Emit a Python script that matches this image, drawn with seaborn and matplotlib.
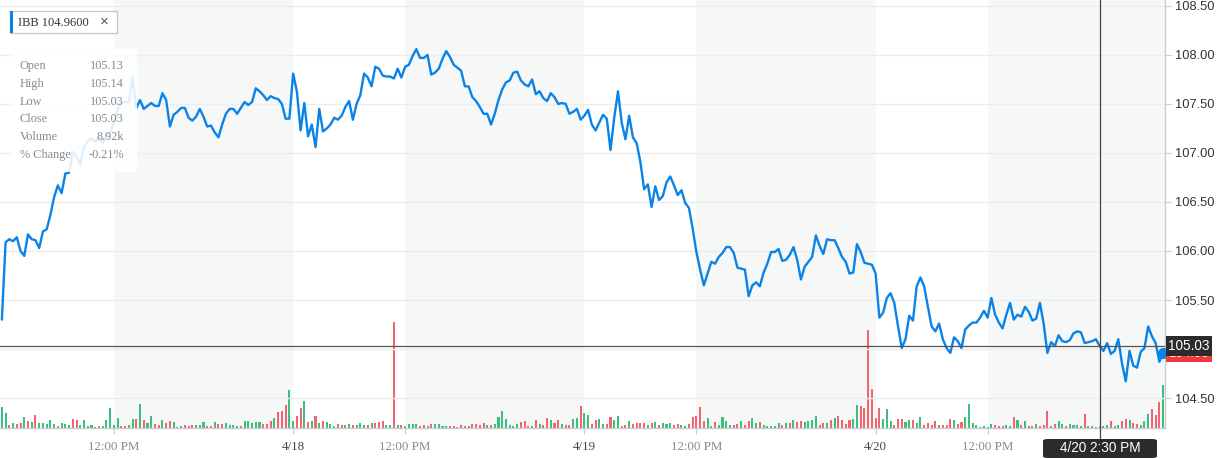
import numpy as np
import pandas as pd
import matplotlib
matplotlib.use('Agg')
import matplotlib.pyplot as plt
import seaborn as sns
from matplotlib.patches import Rectangle, FancyBboxPatch

# IBB intraday, 5-minute bars, 4/17 - 4/20 (78 bars per session)
price_d1 = [105.30, 106.09, 106.12, 106.10, 106.14, 106.00, 105.95, 106.17, 106.12, 106.11,
            106.03, 106.20, 106.22, 106.37, 106.55, 106.67, 106.59, 106.79, 106.80, 107.01,
            106.96, 106.88, 107.06, 107.12, 107.15, 107.11, 107.16, 107.10, 107.18, 107.21,
            107.31, 107.44, 107.51, 107.52, 107.52, 107.77, 107.46, 107.54, 107.45, 107.48,
            107.51, 107.48, 107.48, 107.61, 107.54, 107.27, 107.39, 107.42, 107.46, 107.46,
            107.36, 107.33, 107.37, 107.45, 107.37, 107.27, 107.28, 107.21, 107.16, 107.29,
            107.40, 107.45, 107.45, 107.40, 107.46, 107.52, 107.49, 107.52, 107.66, 107.63,
            107.59, 107.54, 107.58, 107.56, 107.55, 107.50, 107.35, 107.35]
price_d2 = [107.81, 107.63, 107.23, 107.51, 107.17, 107.29, 107.06, 107.45, 107.22, 107.25,
            107.29, 107.36, 107.34, 107.38, 107.47, 107.53, 107.34, 107.50, 107.59, 107.81,
            107.77, 107.68, 107.88, 107.86, 107.79, 107.78, 107.78, 107.76, 107.86, 107.77,
            107.88, 107.90, 107.99, 108.06, 107.97, 107.97, 108.00, 107.80, 107.82, 107.86,
            107.96, 108.04, 107.98, 107.90, 107.87, 107.84, 107.68, 107.68, 107.57, 107.53,
            107.47, 107.40, 107.40, 107.29, 107.40, 107.54, 107.65, 107.72, 107.74, 107.82,
            107.83, 107.74, 107.70, 107.68, 107.75, 107.60, 107.63, 107.56, 107.53, 107.61,
            107.57, 107.50, 107.51, 107.50, 107.40, 107.42, 107.45, 107.34]
price_d3 = [107.38, 107.44, 107.29, 107.23, 107.31, 107.39, 107.35, 107.03, 107.36, 107.63,
            107.31, 107.14, 107.38, 107.16, 107.10, 106.91, 106.63, 106.68, 106.45, 106.66,
            106.52, 106.56, 106.70, 106.76, 106.67, 106.57, 106.62, 106.49, 106.44, 106.23,
            105.99, 105.81, 105.65, 105.77, 105.89, 105.87, 105.94, 105.98, 106.04, 106.04,
            105.98, 105.83, 105.82, 105.81, 105.54, 105.65, 105.68, 105.64, 105.78, 105.87,
            105.99, 105.99, 106.02, 105.90, 105.91, 105.96, 106.04, 105.91, 105.71, 105.84,
            105.89, 105.94, 106.16, 106.05, 105.97, 106.12, 106.11, 106.11, 106.03, 105.94,
            105.89, 105.77, 105.78, 106.07, 105.99, 105.88, 105.87, 105.86]
price_d4 = [105.77, 105.32, 105.37, 105.52, 105.57, 105.47, 105.23, 105.01, 105.10, 105.34,
            105.29, 105.64, 105.73, 105.64, 105.43, 105.23, 105.18, 105.26, 105.10, 105.01,
            104.96, 105.12, 105.08, 105.01, 105.20, 105.24, 105.27, 105.27, 105.32, 105.39,
            105.32, 105.52, 105.35, 105.27, 105.21, 105.35, 105.47, 105.30, 105.35, 105.33,
            105.43, 105.38, 105.29, 105.31, 105.47, 105.26, 104.96, 105.07, 105.03, 105.14,
            105.08, 105.07, 105.09, 105.16, 105.18, 105.17, 105.06, 105.07, 105.08, 105.10,
            105.03, 104.98, 105.06, 104.95, 104.98, 105.10, 104.85, 104.67, 104.98, 104.83,
            104.81, 104.97, 105.01, 105.23, 105.13, 105.06, 104.87, 104.96]

# volume in thousands of shares
vol_d1 = [108, 76, 14, 24, 19, 24, 56, 35, 30, 66, 24, 24, 19, 40, 19, 9, 24, 19, 14, 48,
          40, 14, 40, 9, 14, 4, 9, 9, 40, 102, 14, 50, 9, 9, 14, 45, 45, 123, 40, 24,
          61, 19, 14, 40, 24, 35, 30, 4, 9, 14, 9, 14, 14, 14, 30, 9, 9, 30, 19, 19,
          24, 14, 14, 9, 9, 35, 35, 24, 30, 30, 19, 19, 35, 50, 82, 87, 118, 199]
vol_d2 = [35, 61, 102, 139, 30, 35, 61, 24, 35, 30, 19, 9, 19, 14, 14, 19, 14, 14, 24, 14,
          14, 24, 24, 30, 35, 14, 14, 551, 14, 14, 9, 19, 19, 19, 9, 14, 9, 19, 19, 19,
          9, 9, 9, 9, 3, 14, 9, 9, 19, 19, 14, 24, 14, 14, 19, 56, 87, 45, 14, 9,
          19, 30, 35, 9, 9, 40, 19, 14, 50, 40, 24, 40, 19, 14, 14, 45, 50, 113]
vol_d3 = [76, 66, 19, 40, 45, 19, 19, 56, 40, 61, 9, 14, 35, 19, 24, 24, 24, 14, 24, 30,
          14, 24, 19, 24, 14, 19, 14, 9, 19, 56, 61, 108, 35, 50, 9, 30, 14, 56, 35, 14,
          14, 19, 35, 14, 35, 50, 24, 30, 14, 9, 9, 9, 24, 14, 24, 24, 40, 30, 35, 30,
          35, 40, 61, 14, 24, 24, 40, 50, 61, 40, 19, 40, 45, 118, 113, 102, 510, 201]
vol_d4 = [50, 102, 45, 97, 35, 14, 45, 45, 30, 40, 40, 24, 56, 14, 24, 14, 35, 14, 14, 14,
          45, 40, 19, 30, 56, 123, 24, 14, 4, 9, 4, 19, 14, 9, 9, 14, 9, 56, 40, 14,
          35, 9, 9, 19, 9, 14, 87, 9, 19, 35, 19, 9, 19, 14, 14, 9, 71, 9, 9, 4,
          8.92, 9, 14, 35, 9, 14, 35, 45, 40, 24, 19, 14, 35, 71, 97, 66, 134, 222]

# G = up bar, R = down bar
dir_d1 = "GGRGRRGRGR" "GGGGGRGGGR" "RGGGGRRGGG" "GGRRGGRGRG" "GRRGRRGGGR" "RRGGGRRGRR" "GGGGRGGGGG" "RRRGRRRG"
dir_d2 = "GRRGRGRGRG" "GGRGRGRGGG" "RGRRRGGRGR" "GGGGRRGRGG" "GGRRGRRGRR" "RRGRGGGGGG" "GRRRGRGRRG" "RRGRRGGR"
dir_d3 = "GGRRGGRRGG" "RRGRRRRGRG" "RGGGRRGGRR" "RRRGGRGGGG" "RRGRRGGRGG" "GGGRGRGRRG" "GGGRRGRGRR" "RRGGRRRR"
dir_d4 = "RRGGGRRRGG" "RGGRRRRGRR" "RGRRGGGGGG" "GGRRRGGRGR" "GRRGRRRGRG" "GRGGGGRGGG" "RGGRGGRRGR" "RGGGRRRG"

tick_pos = [30, 78, 108, 156, 186, 234, 264]
tick_labels = ['12:00 PM', '4/18', '12:00 PM', '4/19', '12:00 PM', '4/20', '12:00 PM']
price_ticks = [104.5, 105.0, 105.5, 106.0, 106.5, 107.0, 107.5, 108.0, 108.5]
shade_spans = [(30, 78), (108, 156), (186, 234), (264, 311.5)]

symbol = 'IBB'
last_price = 104.96
info_labels = ['Open', 'High', 'Low', 'Close', 'Volume', '% Change']
info_values = ['105.13', '105.14', '105.03', '105.03', '8.92k', '-0.21%']
cross_bar = 294
cross_price = 105.03
cross_label = '4/20 2:30 PM'

df = pd.DataFrame({
    'price': price_d1 + price_d2 + price_d3 + price_d4,
    'volume': vol_d1 + vol_d2 + vol_d3 + vol_d4,
    'dir': list(dir_d1 + dir_d2 + dir_d3 + dir_d4),
})
df['bar'] = np.arange(len(df))

BLUE = '#0a83e9'
GREEN = '#3cbf7c'
RED = '#f4646f'

sns.set_style('white')
plt.rcParams['font.family'] = ['Liberation Sans', 'DejaVu Sans']

W, H = 1220, 458
fig = plt.figure(figsize=(W / 100, H / 100), dpi=100)
rect = [0, 30 / H, 1165 / W, 428 / H]

# volume layer underneath
axv = fig.add_axes(rect)
for lo, hi in shade_spans:
    axv.axvspan(lo, hi, color='#f6f8f8', lw=0, zorder=0)
axv.bar(df['bar'], df['volume'], width=0.55, linewidth=0,
        color=df['dir'].map({'G': GREEN, 'R': RED}))
axv.set_xlim(-0.5, 311.5)
axv.set_ylim(0, 428 * 5.2)
axv.set_axis_off()

# price layer on top
axp = fig.add_axes(rect)
axp.patch.set_visible(False)
sns.lineplot(data=df, x='bar', y='price', ax=axp, color=BLUE, lw=1.7, zorder=3)
axp.plot(df['bar'].iloc[-1], df['price'].iloc[-1], 'o', ms=7, color=BLUE, zorder=4)
axp.set_xlim(-0.5, 311.5)
axp.set_ylim(104.194, 108.561)
axp.set_xlabel('')
axp.set_ylabel('')

# the 105.00 label sits under the crosshair flag, so it is not shown
axp.set_yticks(price_ticks)
axp.set_yticklabels(['' if v == 105.0 else f'{v:.2f}' for v in price_ticks])
axp.yaxis.tick_right()
axp.grid(axis='y', color='#ececec', lw=1)
axp.set_axisbelow(True)
axp.tick_params(axis='y', right=True, length=4, color='#cccccc', labelsize=9.3,
                labelcolor='#333333', pad=3)

axp.set_xticks(tick_pos)
axp.set_xticklabels(tick_labels, family=['Liberation Serif', 'DejaVu Serif'])
axp.tick_params(axis='x', bottom=True, length=4, color='#cccccc', labelsize=9.3, pad=5)
for lab in axp.get_xticklabels():
    lab.set_color('#888888' if 'PM' in lab.get_text() else '#444444')

for side in ['top', 'left']:
    axp.spines[side].set_visible(False)
for side in ['right', 'bottom']:
    axp.spines[side].set_color('#cccccc')
    axp.spines[side].set_linewidth(1)

# crosshair
axp.axhline(cross_price, color='#555555', lw=0.9, zorder=5)
axp.axvline(cross_bar, ymin=-0.026, ymax=1, color='#444444', lw=0.9, zorder=5, clip_on=False)


def px_rect(x0, y0, x1, y1, add=True, **kw):
    r = Rectangle((x0 / W, 1 - y1 / H), (x1 - x0) / W, (y1 - y0) / H,
                  transform=fig.transFigure, **kw)
    if add:
        fig.patches.append(r)
    return r


def px_text(x, y, s, **kw):
    return fig.text(x / W, 1 - y / H, s, **kw)


# price flags on the right axis (last-price flag peeks out under the crosshair flag)
px_rect(1166, 345, 1212, 362, facecolor='#f03a3a', lw=0, zorder=6)
red_txt = px_text(1189, 354, f'{last_price:.2f}', color='white', fontsize=9.5,
                  ha='center', va='center', zorder=7)
red_txt.set_clip_path(px_rect(1166, 356, 1212, 362, add=False))
px_rect(1166, 336, 1212, 356, facecolor='#2b2b2b', lw=0, zorder=8)
px_text(1189, 346, f'{cross_price:.2f}', color='white', fontsize=9.8, ha='center', va='center', zorder=9)

# time flag at the bottom
flag = FancyBboxPatch((1043 / W, 0), 114 / W, 19 / H, boxstyle='round,pad=0,rounding_size=0.004',
                      transform=fig.transFigure, facecolor='#2b2b2b', lw=0, zorder=6)
fig.patches.append(flag)
px_text(1100, 448.5, cross_label, color='white', fontsize=9.8, ha='center', va='center', zorder=7)

# symbol legend
px_rect(10, 11, 117, 33, facecolor='white', edgecolor='#c8c8c8', lw=1, zorder=6)
px_rect(10, 11, 13, 33, facecolor=BLUE, lw=0, zorder=7)
px_text(18, 22.5, f'{symbol} {last_price:.4f}', color='#333333', fontsize=9,
        family=['Liberation Serif', 'DejaVu Serif'], ha='left', va='center', zorder=7)
px_text(104, 22, '\u00d7', color='#555555', fontsize=11, ha='center', va='center', zorder=7)

# hover info panel
px_rect(10, 49, 137, 172, facecolor='white', alpha=0.88, lw=0, zorder=6)
for i, (lab, val) in enumerate(zip(info_labels, info_values)):
    y = 66 + i * 17.8
    px_text(20, y, lab, color='#8a8a8a', fontsize=8.8, family=['Liberation Serif', 'DejaVu Serif'],
            ha='left', va='center', zorder=7)
    px_text(124, y, val, color='#8a8a8a', fontsize=8.8, family=['Liberation Serif', 'DejaVu Serif'],
            ha='right', va='center', zorder=7)

fig.savefig('out.png', dpi=100)
